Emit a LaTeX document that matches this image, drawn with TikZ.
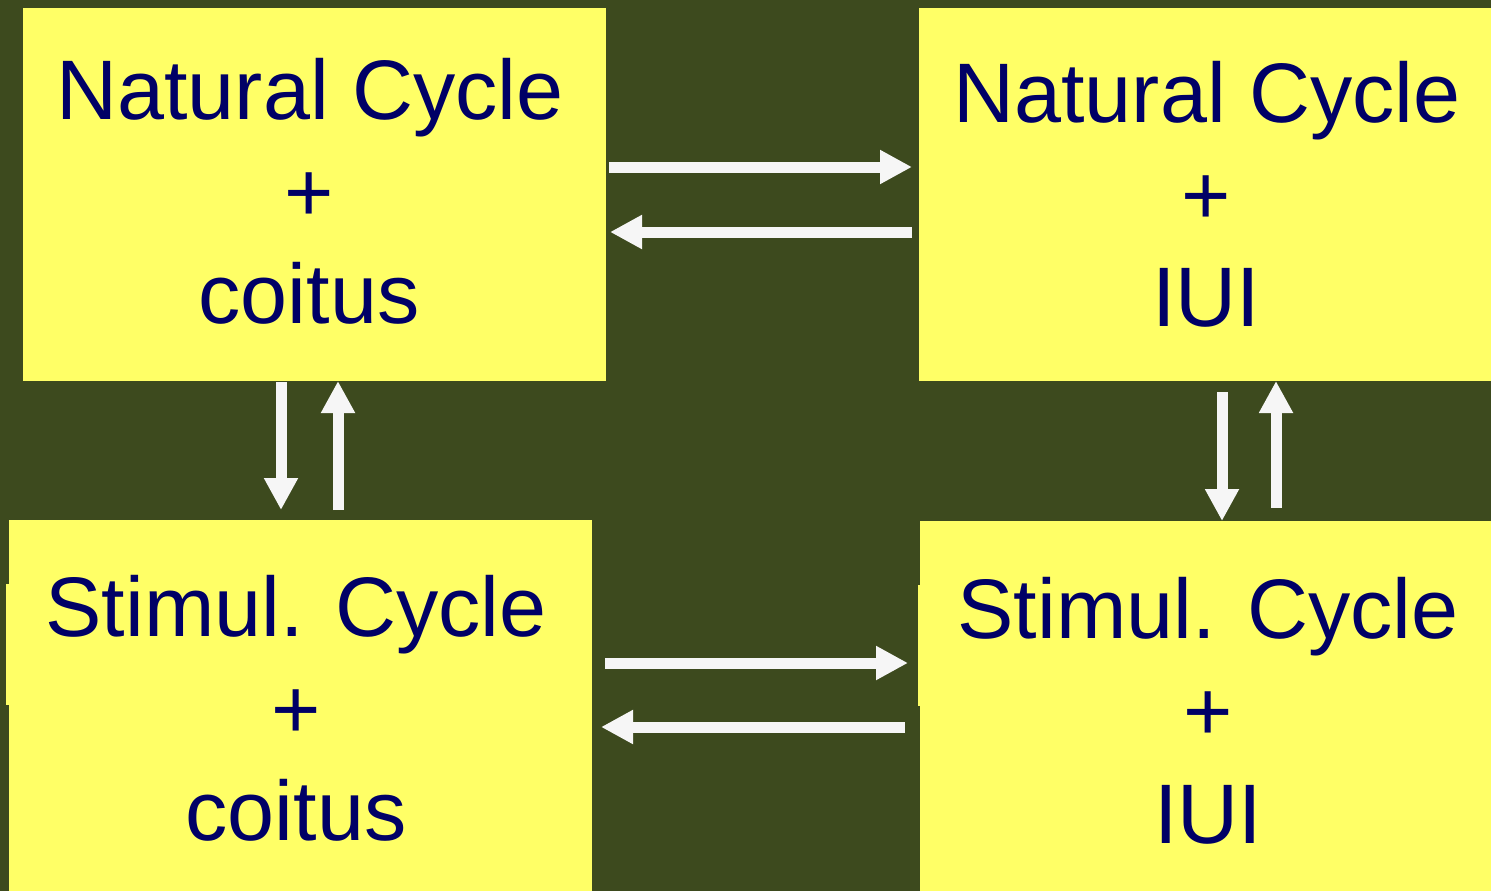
\documentclass[tikz,border=0pt]{standalone}
\usepackage{fontspec}
\setmainfont{Liberation Sans}
\usetikzlibrary{arrows.meta}
\definecolor{bgolive}{HTML}{3D4A1E}
\definecolor{boxyellow}{HTML}{FFFF66}
\definecolor{textnavy}{HTML}{000066}
\definecolor{arrowwhite}{HTML}{F6F6F6}
\tikzset{
  box/.style={fill=boxyellow, draw=none, inner sep=0pt, outer sep=0pt, anchor=north west},
  lbl/.style={text=textnavy, inner sep=0pt, anchor=base,
    font=\fontsize{84.5}{102}\selectfont},
  fat/.style={draw=arrowwhite, line width=11pt,
    -{Triangle[length=32pt,width=32pt,fill=arrowwhite]}},
}
\begin{document}
\begin{tikzpicture}[x=1pt,y=-1pt]
  % canvas
  \fill[bgolive] (0,0) rectangle (1491,891);
  \useasboundingbox (0,0) rectangle (1491,891);

  % the four cycle boxes
  \node[box, minimum width=583pt, minimum height=373pt] (tl) at (23,8) {};
  \node[box, minimum width=572pt, minimum height=373pt] (tr) at (919,8) {};
  \node[box, minimum width=583pt, minimum height=371pt] (bl) at (9,520) {};
  \node[box, minimum width=571pt, minimum height=370pt] (br) at (920,521) {};
  \fill[boxyellow] (6,584) rectangle (10,705);
  \fill[boxyellow] (918,585) rectangle (921,706);

  % box texts
  \node[lbl] (tl1) at (310,119) {Natural Cycle};
  \node[lbl] (tl2) at (309,221) {+};
  \node[lbl] (tl3) at (309,323) {coitus};

  \node[lbl] (tr1) at (1207,122) {Natural Cycle};
  \node[lbl] (tr2) at (1206,224) {+};
  \node[lbl] (tr3) at (1206,326) {IUI};

  \node[lbl] (bl1) at (296,636) {Stimul. Cycle};
  \node[lbl] (bl2) at (296,738) {+};
  \node[lbl] (bl3) at (296,840) {coitus};

  \node[lbl] (br1) at (1208,638) {Stimul. Cycle};
  \node[lbl] (br2) at (1208,740) {+};
  \node[lbl] (br3) at (1208,843) {IUI};

  % arrow end points
  \coordinate (tlR1) at (609,167);  \coordinate (trL1) at (912,167);
  \coordinate (trL2) at (912,232);  \coordinate (tlR2) at (610,232);
  \coordinate (blR1) at (605,663);  \coordinate (brL1) at (908,663);
  \coordinate (brL2) at (905,727);  \coordinate (blR2) at (601,727);
  \coordinate (tlB1) at (281,382);  \coordinate (blT1) at (281,510);
  \coordinate (blT2) at (338,510);  \coordinate (tlB2) at (338,381);
  \coordinate (trB1) at (1222,392); \coordinate (brT1) at (1222,521);
  \coordinate (brT2) at (1276,508); \coordinate (trB2) at (1276,381);

  % transitions between the cycles
  \draw[fat] (tlR1) -- (trL1);
  \draw[fat] (trL2) -- (tlR2);
  \draw[fat] (blR1) -- (brL1);
  \draw[fat] (brL2) -- (blR2);
  \draw[fat] (tlB1) -- (blT1);
  \draw[fat] (blT2) -- (tlB2);
  \draw[fat] (trB1) -- (brT1);
  \draw[fat] (brT2) -- (trB2);
\end{tikzpicture}
\end{document}
